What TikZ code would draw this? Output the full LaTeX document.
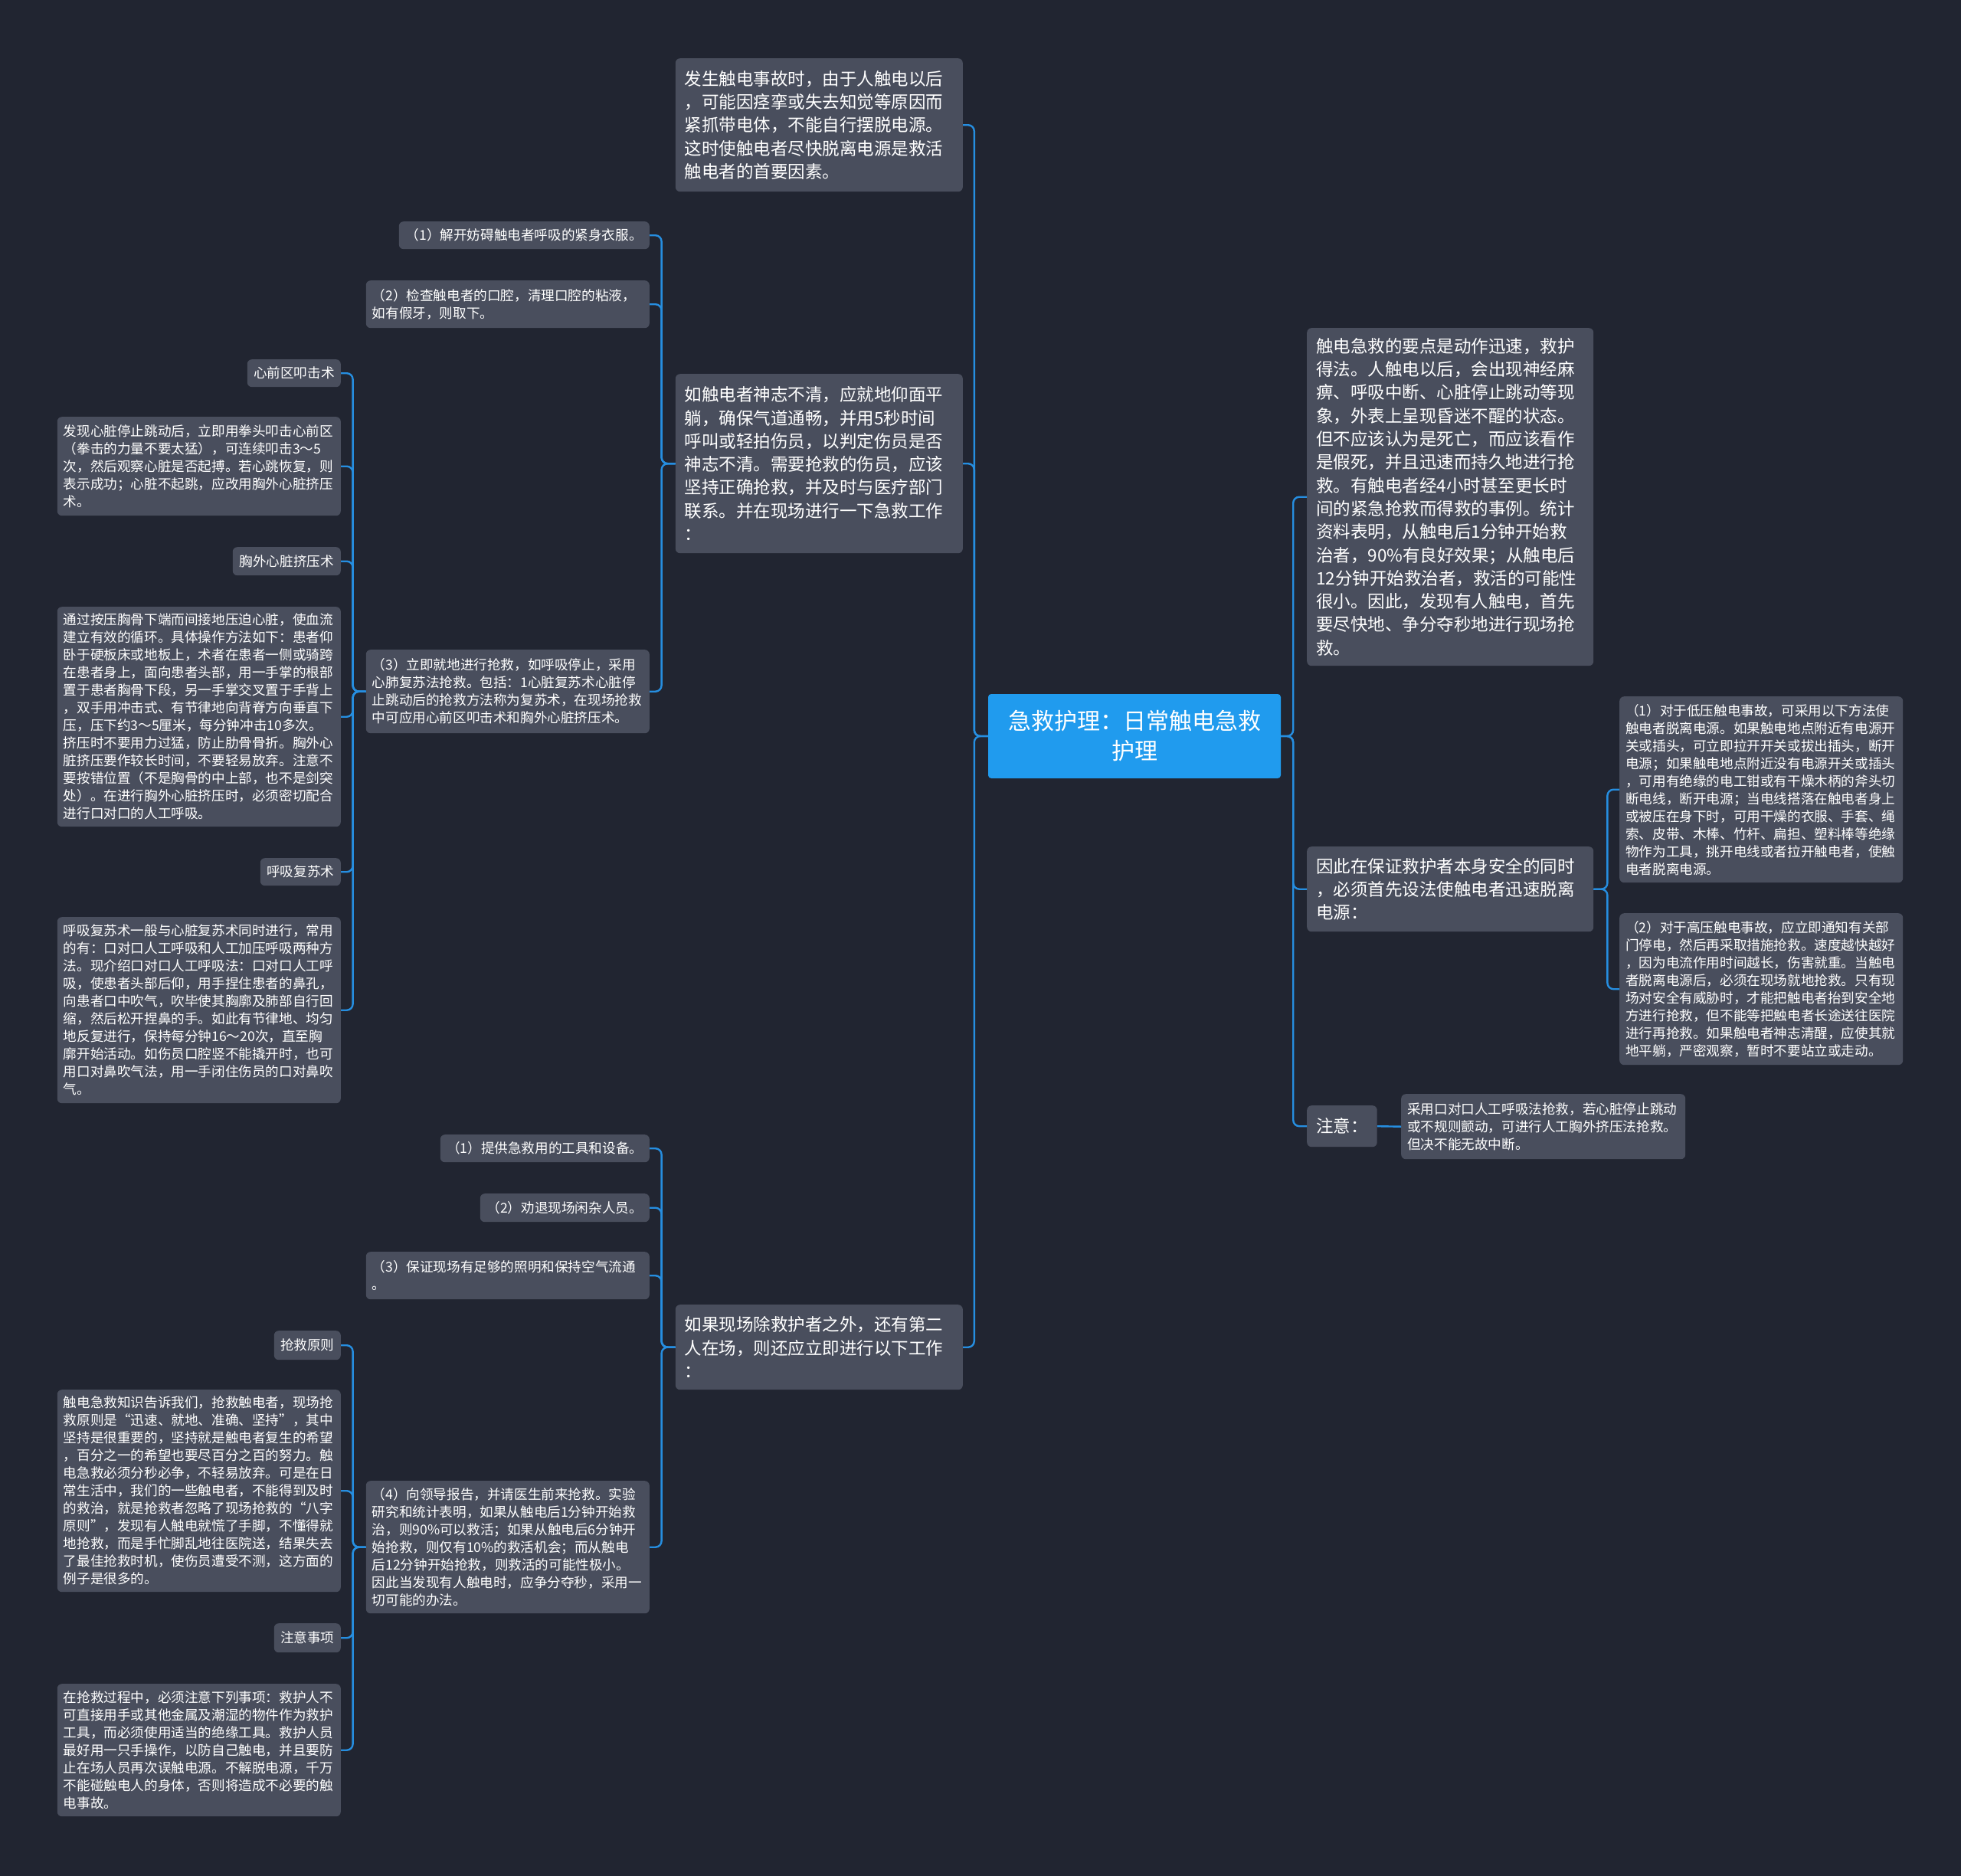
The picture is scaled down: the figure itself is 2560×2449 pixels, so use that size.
\documentclass[tikz,border=0pt]{standalone}
\usepackage{fontspec}
\setmainfont{Noto Sans CJK SC}
\definecolor{bgc}{RGB}{33,37,49}
\definecolor{boxc}{RGB}{73,78,93}
\definecolor{linec}{RGB}{38,142,224}
\definecolor{rootc}{RGB}{32,155,238}
\tikzset{
  root/.style={fill=rootc, text=white, rounded corners=4pt, font=\fontsize{30}{39}\selectfont,
    align=center, minimum width=382pt, minimum height=110pt},
  topic/.style={fill=boxc, text=white, rounded corners=6pt, font=\fontsize{22.5}{30.3}\selectfont,
    align=left, inner xsep=12pt, inner ysep=6pt},
  leaf/.style={fill=boxc, text=white, rounded corners=6pt, font=\fontsize{17.6}{23}\selectfont,
    align=left, inner xsep=8pt, inner ysep=6pt},
  link/.style={draw=linec, line width=2.4pt, rounded corners=8pt},
}
\begin{document}
\begin{tikzpicture}[x=1pt,y=-1pt]
  \fill[bgc] (0,0) rectangle (2560,2449);

  \node[root] (root) at (1481,961) {急救护理：日常触电急救\\护理};

  % left half
  \node[topic, anchor=north east, text width=351pt, minimum height=174pt] (T1) at (1257,76)
    {发生触电事故时，由于人触电以后\\，可能因痉挛或失去知觉等原因而\\紧抓带电体，不能自行摆脱电源。\\这时使触电者尽快脱离电源是救活\\触电者的首要因素。};
  \node[topic, anchor=north east, text width=351pt, minimum height=234pt] (M1) at (1257,488)
    {如触电者神志不清，应就地仰面平\\躺，确保气道通畅，并用5秒时间\\呼叫或轻拍伤员，以判定伤员是否\\神志不清。需要抢救的伤员，应该\\坚持正确抢救，并及时与医疗部门\\联系。并在现场进行一下急救工作\\：};
  \node[topic, anchor=north east, text width=351pt, minimum height=111pt] (M2) at (1257,1703)
    {如果现场除救护者之外，还有第二\\人在场，则还应立即进行以下工作\\：};

  \node[leaf, anchor=north east, minimum width=327pt, minimum height=36pt] (L1) at (848,289)
    {（1）解开妨碍触电者呼吸的紧身衣服。};
  \node[leaf, anchor=north east, text width=354pt, minimum height=62pt] (L2) at (848,366)
    {（2）检查触电者的口腔，清理口腔的粘液，\\如有假牙，则取下。};
  \node[leaf, anchor=north east, text width=354pt, minimum height=109pt] (L3) at (848,848)
    {（3）立即就地进行抢救，如呼吸停止，采用\\心肺复苏法抢救。包括：1心脏复苏术心脏停\\止跳动后的抢救方法称为复苏术，在现场抢救\\中可应用心前区叩击术和胸外心脏挤压术。};

  \node[leaf, anchor=north east, minimum width=122pt, minimum height=36pt] (A1) at (445,469) {心前区叩击术};
  \node[leaf, anchor=north east, text width=354pt, minimum height=129pt] (A1t) at (445,544)
    {发现心脏停止跳动后，立即用拳头叩击心前区\\（拳击的力量不要太猛），可连续叩击3～5\\次，然后观察心脏是否起搏。若心跳恢复，则\\表示成功；心脏不起跳，应改用胸外心脏挤压\\术。};
  \node[leaf, anchor=north east, minimum width=141pt, minimum height=37pt] (A2) at (445,714) {胸外心脏挤压术};
  \node[leaf, anchor=north east, text width=354pt, minimum height=287pt] (A2t) at (445,792)
    {通过按压胸骨下端而间接地压迫心脏，使血流\\建立有效的循环。具体操作方法如下：患者仰\\卧于硬板床或地板上，术者在患者一侧或骑跨\\在患者身上，面向患者头部，用一手掌的根部\\置于患者胸骨下段，另一手掌交叉置于手背上\\，双手用冲击式、有节律地向背脊方向垂直下\\压，压下约3～5厘米，每分钟冲击10多次。\\挤压时不要用力过猛，防止肋骨骨折。胸外心\\脏挤压要作较长时间，不要轻易放弃。注意不\\要按错位置（不是胸骨的中上部，也不是剑突\\处）。在进行胸外心脏挤压时，必须密切配合\\进行口对口的人工呼吸。};
  \node[leaf, anchor=north east, minimum width=105pt, minimum height=36pt] (A3) at (445,1120) {呼吸复苏术};
  \node[leaf, anchor=north east, text width=354pt, minimum height=243pt] (A3t) at (445,1197)
    {呼吸复苏术一般与心脏复苏术同时进行，常用\\的有：口对口人工呼吸和人工加压呼吸两种方\\法。现介绍口对口人工呼吸法：口对口人工呼\\吸，使患者头部后仰，用手捏住患者的鼻孔，\\向患者口中吹气，吹毕使其胸廓及肺部自行回\\缩，然后松开捏鼻的手。如此有节律地、均匀\\地反复进行，保持每分钟16～20次，直至胸\\廓开始活动。如伤员口腔竖不能撬开时，也可\\用口对鼻吹气法，用一手闭住伤员的口对鼻吹\\气。};

  \node[leaf, anchor=north east, minimum width=273pt, minimum height=36pt] (B1) at (848,1481)
    {（1）提供急救用的工具和设备。};
  \node[leaf, anchor=north east, minimum width=221pt, minimum height=37pt] (B2) at (848,1558)
    {（2）劝退现场闲杂人员。};
  \node[leaf, anchor=north east, text width=354pt, minimum height=62pt] (B3) at (848,1634)
    {（3）保证现场有足够的照明和保持空气流通\\。};
  \node[leaf, anchor=north east, text width=354pt, minimum height=173pt] (B4) at (848,1933)
    {（4）向领导报告，并请医生前来抢救。实验\\研究和统计表明，如果从触电后1分钟开始救\\治，则90\%可以救活；如果从触电后6分钟开\\始抢救，则仅有10\%的救活机会；而从触电\\后12分钟开始抢救，则救活的可能性极小。\\因此当发现有人触电时，应争分夺秒，采用一\\切可能的办法。};

  \node[leaf, anchor=north east, minimum width=87pt, minimum height=38pt] (C1) at (445,1737) {抢救原则};
  \node[leaf, anchor=north east, text width=354pt, minimum height=264pt] (C1t) at (445,1814)
    {触电急救知识告诉我们，抢救触电者，现场抢\\救原则是“迅速、就地、准确、坚持”，其中\\坚持是很重要的，坚持就是触电者复生的希望\\，百分之一的希望也要尽百分之百的努力。触\\电急救必须分秒必争，不轻易放弃。可是在日\\常生活中，我们的一些触电者，不能得到及时\\的救治，就是抢救者忽略了现场抢救的“八字\\原则”，发现有人触电就慌了手脚，不懂得就\\地抢救，而是手忙脚乱地往医院送，结果失去\\了最佳抢救时机，使伤员遭受不测，这方面的\\例子是很多的。};
  \node[leaf, anchor=north east, minimum width=87pt, minimum height=38pt] (C2) at (445,2119) {注意事项};
  \node[leaf, anchor=north east, text width=354pt, minimum height=173pt] (C2t) at (445,2198)
    {在抢救过程中，必须注意下列事项：救护人不\\可直接用手或其他金属及潮湿的物件作为救护\\工具，而必须使用适当的绝缘工具。救护人员\\最好用一只手操作，以防自己触电，并且要防\\止在场人员再次误触电源。不解脱电源，千万\\不能碰触电人的身体，否则将造成不必要的触\\电事故。};

  % right half
  \node[topic, anchor=north west, text width=350pt, minimum height=441pt] (R1) at (1706,428)
    {触电急救的要点是动作迅速，救护\\得法。人触电以后，会出现神经麻\\痹、呼吸中断、心脏停止跳动等现\\象，外表上呈现昏迷不醒的状态。\\但不应该认为是死亡，而应该看作\\是假死，并且迅速而持久地进行抢\\救。有触电者经4小时甚至更长时\\间的紧急抢救而得救的事例。统计\\资料表明，从触电后1分钟开始救\\治者，90\%有良好效果；从触电后\\12分钟开始救治者，救活的可能性\\很小。因此，发现有人触电，首先\\要尽快地、争分夺秒地进行现场抢\\救。};
  \node[topic, anchor=north west, text width=350pt, minimum height=111pt] (R2) at (1706,1105)
    {因此在保证救护者本身安全的同时\\，必须首先设法使触电者迅速脱离\\电源：};
  \node[topic, anchor=north west, minimum width=90pt, minimum height=54pt] (R3) at (1706,1443) {注意：};

  \node[leaf, anchor=north west, text width=354pt, minimum height=243pt] (R2a) at (2114,909)
    {（1）对于低压触电事故，可采用以下方法使\\触电者脱离电源。如果触电地点附近有电源开\\关或插头，可立即拉开开关或拔出插头，断开\\电源；如果触电地点附近没有电源开关或插头\\，可用有绝缘的电工钳或有干燥木柄的斧头切\\断电线，断开电源；当电线搭落在触电者身上\\或被压在身下时，可用干燥的衣服、手套、绳\\索、皮带、木棒、竹杆、扁担、塑料棒等绝缘\\物作为工具，挑开电线或者拉开触电者，使触\\电者脱离电源。};
  \node[leaf, anchor=north west, text width=354pt, minimum height=198pt] (R2b) at (2114,1192)
    {（2）对于高压触电事故，应立即通知有关部\\门停电，然后再采取措施抢救。速度越快越好\\，因为电流作用时间越长，伤害就重。当触电\\者脱离电源后，必须在现场就地抢救。只有现\\场对安全有威胁时，才能把触电者抬到安全地\\方进行抢救，但不能等把触电者长途送往医院\\进行再抢救。如果触电者神志清醒，应使其就\\地平躺，严密观察，暂时不要站立或走动。};
  \node[leaf, anchor=north west, text width=355pt, minimum height=85pt] (R3a) at (1829,1428)
    {采用口对口人工呼吸法抢救，若心脏停止跳动\\或不规则颤动，可进行人工胸外挤压法抢救。\\但决不能无故中断。};

  % connectors
  \foreach \c in {T1,M1,M2}
    \draw[link] (root.west) -- ++(-18,0) |- (\c.east);
  \foreach \c in {R1,R2,R3}
    \draw[link] (root.east) -- ++(16,0) |- (\c.west);
  \foreach \c in {L1,L2,L3}
    \draw[link] (M1.west) -- ++(-18,0) |- (\c.east);
  \foreach \c in {A1,A1t,A2,A2t,A3,A3t}
    \draw[link] (L3.west) -- ++(-17,0) |- (\c.east);
  \foreach \c in {B1,B2,B3,B4}
    \draw[link] (M2.west) -- ++(-18,0) |- (\c.east);
  \foreach \c in {C1,C1t,C2,C2t}
    \draw[link] (B4.west) -- ++(-17,0) |- (\c.east);
  \foreach \c in {R2a,R2b}
    \draw[link] (R2.east) -- ++(18,0) |- (\c.west);
  \draw[link] (R3.east) -- (R3a.west);
\end{tikzpicture}
\end{document}
